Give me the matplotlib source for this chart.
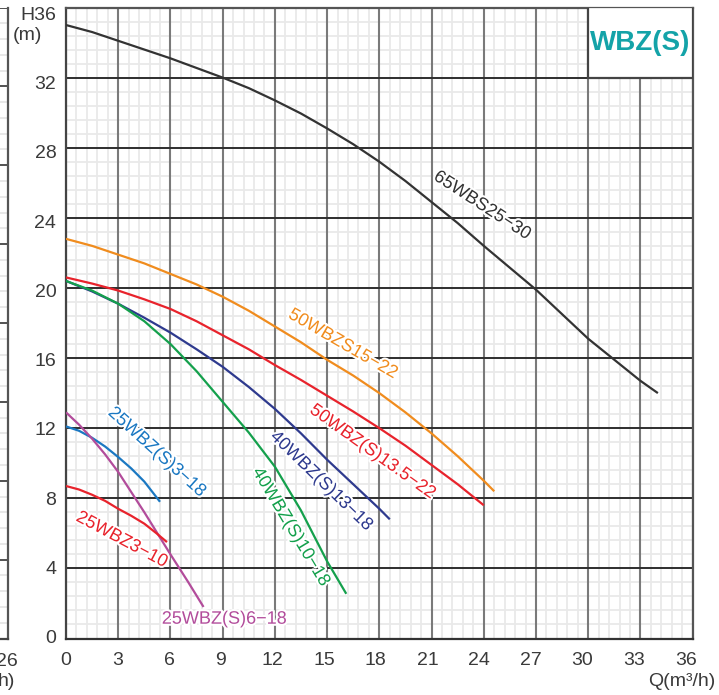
import matplotlib
matplotlib.use("Agg")
import matplotlib.pyplot as plt
import matplotlib.patheffects as pe
from matplotlib.patches import Rectangle
import numpy as np

plt.rcParams['font.family'] = ['Liberation Sans', 'DejaVu Sans']

# ---------------- data ----------------
q_65 = [0, 1.5, 3, 4.5, 6, 7.5, 9, 10.5, 12, 13.5, 15, 16.5, 18, 19.5, 21, 22.5, 24, 25.5, 27, 28.5, 30, 31.5, 33, 34]
h_65 = [35.0, 34.6, 34.1, 33.6, 33.1, 32.55, 32.0, 31.4, 30.7, 29.95, 29.1, 28.2, 27.2, 26.1, 24.9, 23.7, 22.4, 21.15, 19.9, 18.5, 17.1, 15.9, 14.7, 14.0]

q_50s15 = [0, 1.5, 3, 4.5, 6, 7.5, 9, 10.5, 12, 13.5, 15, 16.5, 18, 19.5, 21, 22.5, 24, 24.6]
h_50s15 = [22.8, 22.4, 21.9, 21.4, 20.8, 20.2, 19.5, 18.7, 17.8, 16.9, 15.9, 15.0, 14.0, 12.9, 11.7, 10.4, 9.0, 8.4]

q_50s135 = [0, 1.5, 3, 4.5, 6, 7.5, 9, 10.5, 12, 13.5, 15, 16.5, 18, 19.5, 21, 22.5, 24]
h_50s135 = [20.6, 20.25, 19.85, 19.35, 18.8, 18.1, 17.3, 16.5, 15.6, 14.75, 13.85, 12.95, 12.0, 11.0, 9.9, 8.8, 7.6]

q_40s13 = [0, 1.5, 3, 4.5, 6, 7.5, 9, 10.5, 12, 13.5, 15, 16.5, 18, 18.6]
h_40s13 = [20.4, 19.8, 19.1, 18.3, 17.45, 16.5, 15.5, 14.35, 13.1, 11.7, 10.2, 8.8, 7.4, 6.8]

q_40s10 = [0, 1.5, 3, 4.5, 6, 7.5, 9, 10.5, 12, 13.5, 15, 16.1]
h_40s10 = [20.4, 19.85, 19.1, 18.1, 16.8, 15.25, 13.5, 11.75, 9.8, 7.3, 4.4, 2.55]

q_25s3 = [0, 0.75, 1.5, 2.25, 3, 3.75, 4.5, 5.4]
h_25s3 = [12.1, 11.85, 11.45, 10.95, 10.35, 9.7, 8.95, 7.8]

q_25s6 = [0, 0.75, 1.5, 2.25, 3, 3.75, 4.5, 5.25, 6, 7, 7.9]
h_25s6 = [12.9, 12.2, 11.4, 10.5, 9.5, 8.35, 7.2, 6.0, 4.8, 3.25, 1.8]

q_25_3 = [0, 0.75, 1.5, 2.25, 3, 3.75, 4.5, 5.2, 5.8]
h_25_3 = [8.7, 8.5, 8.2, 7.85, 7.4, 7.0, 6.55, 6.0, 5.5]

x_ticks = [0, 3, 6, 9, 12, 15, 18, 21, 24, 27, 30, 33, 36]
y_ticks = [0, 4, 8, 12, 16, 20, 24, 28, 32, 36]
y_ticklabels = ['0', '4', '8', '12', '16', '20', '24', '28', '32', 'H36']

# (name, q, h, color, label position, rotation)
series = [
    ("65WBS25−30", q_65, h_65, '#333333', (23.9, 24.7), -33),
    ("50WBZS15−22", q_50s15, h_50s15, '#f08c1e', (15.9, 16.8), -30),
    ("50WBZ(S)13.5−22", q_50s135, h_50s135, '#e8232c', (17.6, 10.65), -35.5),
    ("40WBZ(S)13−18", q_40s13, h_40s13, '#2e3a8e', (14.66, 8.98), -44),
    ("40WBZ(S)10−18", q_40s10, h_40s10, '#14a04c', (12.91, 6.36), -59),
    ("25WBZ(S)3−18", q_25s3, h_25s3, '#1b78c2', (5.21, 10.63), -42),
    ("25WBZ(S)6−18", q_25s6, h_25s6, '#b24c9b', (9.09, 1.1), 0),
    ("25WBZ3−10", q_25_3, h_25_3, '#e8232c', (3.2, 5.63), -28),
]

# ---------------- figure ----------------
W, H = 719, 695
fig = plt.figure(figsize=(W / 100, H / 100), dpi=100)

def pos(l, t, r, b):
    return [l / W, 1 - b / H, (r - l) / W, (b - t) / H]

# neighbouring chart remnant on the left
ax0 = fig.add_axes([-0.6, 1 - 638.5 / H, 0.6 + 8 / W, 631 / H])
ax0.set_xlim(0, 1)
ax0.set_ylim(0, 8)
ax0.set_yticks(np.arange(0, 9, 1))
ax0.set_yticks(np.arange(0, 8.01, 0.2), minor=True)
ax0.set_xticks([])
ax0.grid(which='minor', axis='y', color='#e6e6e6', lw=1.3)
ax0.grid(which='major', axis='y', color='#444444', lw=1.3)
ax0.tick_params(which='both', length=0, labelleft=False)
for s in ['left', 'top']:
    ax0.spines[s].set_visible(False)
ax0.spines['right'].set_color('#555555')
ax0.spines['right'].set_linewidth(1.6)
ax0.spines['bottom'].set_color('#444444')
ax0.spines['bottom'].set_linewidth(1.6)

rect = pos(66, 7.5, 692.7, 638.5)

# background: fine grid
axg = fig.add_axes(rect)
axg.set_xlim(0, 36)
axg.set_ylim(0, 36)
axg.set_xticks(np.arange(0, 36.01, 0.6))
axg.set_yticks(np.arange(0, 36.01, 0.8))
axg.grid(color='#e9e9e9', lw=1.3)
axg.tick_params(length=0, labelleft=False, labelbottom=False)
for s in axg.spines.values():
    s.set_visible(False)

# main chart
ax = fig.add_axes(rect)
ax.patch.set_alpha(0)
ax.set_xlim(0, 36)
ax.set_ylim(0, 36)
ax.set_xticks(x_ticks)
ax.set_yticks(y_ticks)
ax.grid(which='major', axis='x', color='#7a7a7a', lw=1.5)
ax.grid(which='major', axis='y', color='#2e2e2e', lw=1.4)
ax.set_axisbelow(True)
ax.tick_params(which='both', length=0, labelleft=False, labelbottom=False)
for s in ax.spines.values():
    s.set_color('#555555')
    s.set_linewidth(1.6)
ax.spines['left'].set_color('#444444')
ax.spines['bottom'].set_color('#333333')

# title box
ax.add_patch(Rectangle((30, 32), 6, 4, facecolor='white', edgecolor='#444444',
                       lw=1.6, zorder=3))
ax.text(33, 34, 'WBZ(S)', color='#14a3a8', fontsize=20, fontweight='bold',
        ha='center', va='center', zorder=4)

halo = [pe.withStroke(linewidth=3, foreground='white')]
for name, q, h, col, (lx, ly), rot in series:
    ax.plot(q, h, color=col, lw=1.6, zorder=5, solid_capstyle='butt',
            solid_joinstyle='round')
    ax.text(lx, ly, name, color=col, fontsize=13, rotation=rot,
            rotation_mode='anchor', ha='center', va='center', zorder=6,
            path_effects=halo)

# tick labels (slightly different spacing than grid, as in the reference)
axl = fig.add_axes(rect, frameon=False)
axl.patch.set_alpha(0)
axl.set_xlim(0.017, 36.41)
axl.set_ylim(-0.104, 36.33)
axl.set_xticks(x_ticks)
axl.set_xticklabels([str(v) for v in x_ticks])
axl.set_yticks(y_ticks)
axl.set_yticklabels(y_ticklabels)
axl.tick_params(length=0, labelsize=14, colors='#3a3a3a')
axl.tick_params(axis='y', pad=7)
axl.tick_params(axis='x', pad=10)

fig.text(27.5 / W, 1 - 36 / H, '(m)', fontsize=14, color='#3a3a3a',
         ha='center', va='center')
fig.text(715 / W, 1 - 682 / H, 'Q(m³/h)', fontsize=14, color='#3a3a3a',
         ha='right', va='center')
fig.text(7 / W, 1 - 662 / H, '26', fontsize=14, color='#3a3a3a',
         ha='center', va='center')
fig.text(15 / W, 1 - 682 / H, 'h)', fontsize=14, color='#3a3a3a',
         ha='right', va='center')

fig.savefig('out.png', dpi=100)
